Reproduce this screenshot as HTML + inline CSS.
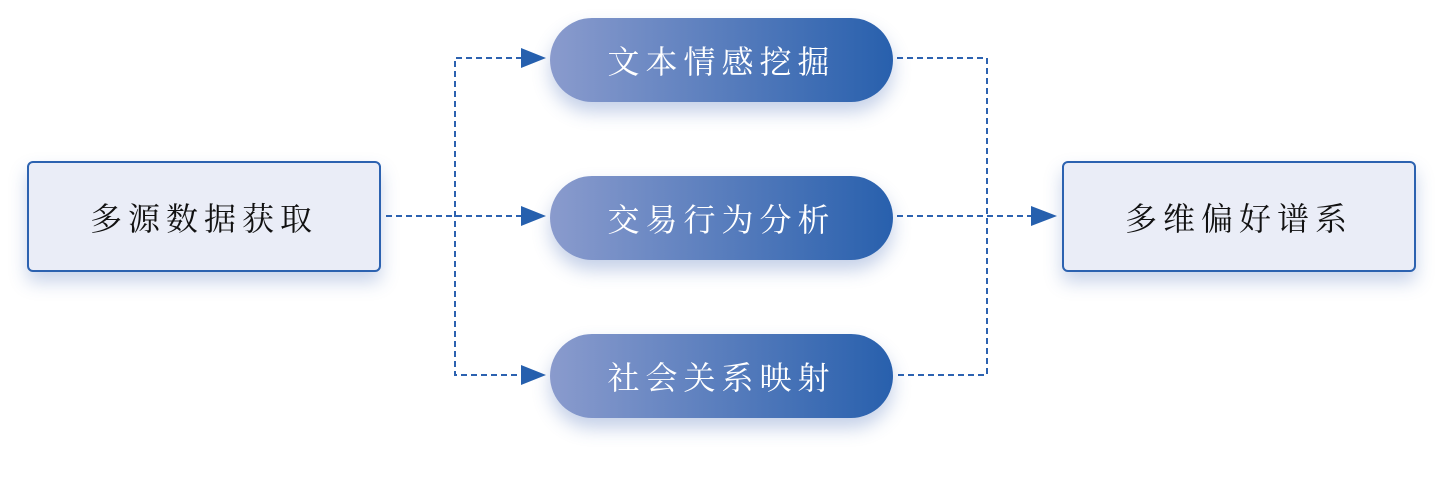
<!DOCTYPE html>
<html><head><meta charset="utf-8"><style>
body{margin:0;width:1443px;height:502px;background:#fff;position:relative;overflow:hidden;font-family:"Liberation Serif","Noto Serif CJK SC",serif;}
.box{position:absolute;width:354px;height:111px;top:161px;background:#eaedf7;border:2px solid #2c62b0;border-radius:6px;box-sizing:border-box;box-shadow:0 10px 18px rgba(60,100,180,0.28);display:flex;align-items:center;justify-content:center;font-size:32px;letter-spacing:6px;color:#111;}
.pill{position:absolute;left:550px;width:343px;height:84px;border-radius:42px;background:linear-gradient(90deg,#8a9bcd,#2860ad);box-shadow:0 10px 18px rgba(60,100,180,0.3);display:flex;align-items:center;justify-content:center;font-size:32px;letter-spacing:6px;color:#fff;}
svg{position:absolute;left:0;top:0;}
</style></head><body>
<svg width="1443" height="502">
<g stroke="#2c62b0" stroke-width="2" stroke-dasharray="6,4" fill="none">
<path d="M386 216 H522"/>
<path d="M522 58 H455 V375 H522"/>
<path d="M897 58 H987 V375 H897"/>
<path d="M897 216 H1032"/>
</g>
<g fill="#2660ae">
<polygon points="521,48 546,58 521,68"/>
<polygon points="521,206 546,216 521,226"/>
<polygon points="521,365 546,375 521,385"/>
<polygon points="1031,206 1057,216 1031,226"/>
</g>
</svg>
<div class="box" style="left:27px">多源数据获取</div>
<div class="box" style="left:1062px">多维偏好谱系</div>
<div class="pill" style="top:18px">文本情感挖掘</div>
<div class="pill" style="top:176px">交易行为分析</div>
<div class="pill" style="top:334px">社会关系映射</div>
</body></html>
